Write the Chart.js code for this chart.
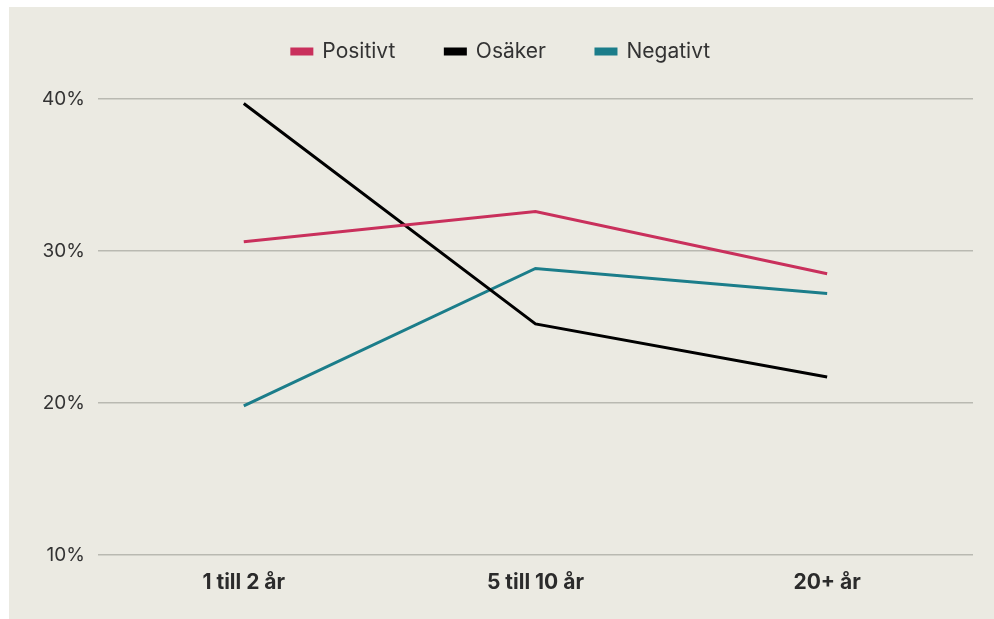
<!DOCTYPE html>
<html>
<head>
<meta charset="utf-8">
<script src="https://cdn.jsdelivr.net/npm/chart.js@4.4.0/dist/chart.umd.min.js"></script>
<style>
  html, body { margin: 0; padding: 0; background: #ffffff; }
  #wrap { position: absolute; left: 9px; top: 7px; width: 985px; height: 612px; background: #ebeae2; }
</style>
</head>
<body>
<div id="wrap"><canvas id="chart"></canvas></div>
<script>
const kategorier = ['1 till 2 år', '5 till 10 år', '20+ år'];
const positivt = [30.6, 32.6, 28.5];
const osaker = [39.7, 25.2, 21.7];
const negativt = [19.8, 28.85, 27.2];
const yTicks = [10, 20, 30, 40];

const ctx = document.getElementById('chart').getContext('2d');

// extra space under the legend
const legendGap = {
  id: 'legendGap',
  beforeInit(chart) {
    const fit = chart.legend.fit;
    chart.legend.fit = function () {
      fit.bind(chart.legend)();
      this.height += 27;
    };
  }
};

new Chart(ctx, {
  type: 'line',
  data: {
    labels: kategorier,
    datasets: [
      { label: 'Positivt', data: positivt, borderColor: '#c9305c', backgroundColor: '#c9305c' },
      { label: 'Osäker', data: osaker, borderColor: '#000000', backgroundColor: '#000000' },
      { label: 'Negativt', data: negativt, borderColor: '#1b7d8a', backgroundColor: '#1b7d8a' }
    ]
  },
  options: {
    responsive: true,
    maintainAspectRatio: false,
    animation: false,
    layout: { padding: { left: 20, right: 21, top: -16, bottom: 17 } },
    elements: {
      line: { borderWidth: 3, tension: 0 },
      point: { radius: 0, hoverRadius: 0 }
    },
    scales: {
      x: {
        offset: true,
        grid: { display: false },
        border: { display: false },
        ticks: {
          color: '#2b2b2b',
          padding: 7,
          font: { family: 'Inter', size: 21, weight: 'bold' }
        }
      },
      y: {
        min: 10,
        max: 40,
        afterBuildTicks: axis => { axis.ticks = yTicks.map(v => ({ value: v })); },
        grid: { color: '#b9b9b1', lineWidth: 1.5, drawTicks: false },
        border: { display: false },
        ticks: {
          color: '#333333',
          padding: 13,
          font: { family: 'Inter', size: 19 },
          callback: value => `${value}%`
        }
      }
    },
    plugins: {
      legend: {
        position: 'top',
        labels: {
          boxWidth: 20,
          boxHeight: 5,
          padding: 50,
          color: '#333333',
          font: { family: 'Inter', size: 21 }
        }
      },
      tooltip: { enabled: false }
    }
  },
  plugins: [legendGap]
});
</script>
</body>
</html>
